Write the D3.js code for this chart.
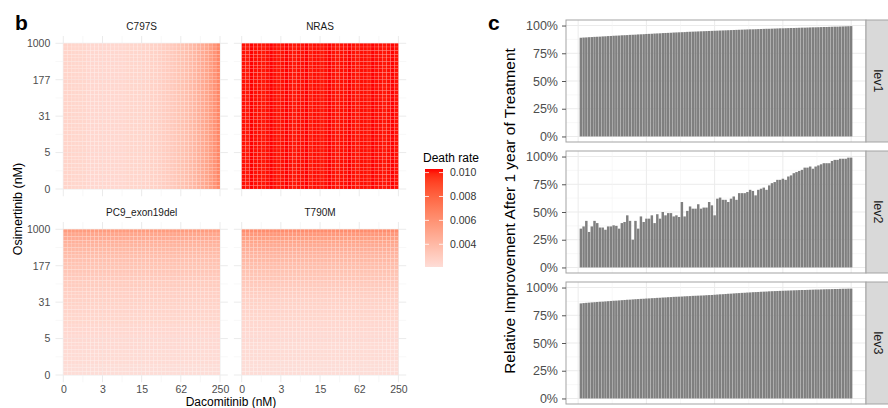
<!DOCTYPE html>
<html>
<head>
<meta charset="utf-8">
<script src="https://cdn.jsdelivr.net/npm/d3@7"></script>
<style>
body { margin: 0; background: #fff; }
svg { display: block; font-family: "Liberation Sans", Arial, sans-serif; }
</style>
</head>
<body>
<script>
// ---- panel b data: death rate per drug level (40 levels per axis) ----
var dacoTicks = ["0", "3", "15", "62", "250"]
var osiTicks = ["0", "5", "31", "177", "1000"]

// C797S changes along dacomitinib only
var c797sByDaco = [.0026,.0026,.0025,.0025,.0025,.0025,.0024,.0024,.0024,.0024,
  .0024,.0024,.0024,.0024,.0024,.0024,.0025,.0025,.0025,.0025,
  .0026,.0026,.0027,.0027,.0028,.0029,.0030,.0031,.0032,.0034,
  .0035,.0037,.0039,.0041,.0044,.0047,.0050,.0054,.0059,.0065]
// NRAS is flat at the top of the scale
var nrasByDaco = [.0102,.0101,.0103,.0102,.0102,.0101,.0102,.0103,.0102,.0101,
  .0102,.0103,.0102,.0101,.0102,.0102,.0103,.0101,.0102,.0102,
  .0101,.0102,.0103,.0102,.0101,.0102,.0102,.0103,.0102,.0101,
  .0102,.0102,.0101,.0103,.0102,.0102,.0101,.0102,.0103,.0102]
// PC9 and T790M change along osimertinib only (index 0 = bottom row)
var pc9ByOsi = [.0021,.0021,.0021,.0022,.0022,.0022,.0022,.0023,.0023,.0023,
  .0023,.0024,.0024,.0024,.0025,.0025,.0025,.0026,.0026,.0027,
  .0027,.0028,.0028,.0029,.0030,.0030,.0031,.0032,.0033,.0034,
  .0035,.0036,.0037,.0039,.0040,.0042,.0044,.0047,.0050,.0055]
var t790mByOsi = [.0021,.0021,.0021,.0021,.0022,.0022,.0022,.0022,.0022,.0023,
  .0023,.0023,.0024,.0024,.0024,.0025,.0025,.0026,.0026,.0027,
  .0027,.0028,.0029,.0030,.0031,.0032,.0033,.0034,.0035,.0037,
  .0038,.0040,.0041,.0043,.0045,.0047,.0050,.0053,.0057,.0062]
var legendTicks = [0.004, 0.006, 0.008, 0.010]

// ---- panel c data: relative improvement per simulated patient ----
var levels = ["lev1", "lev2", "lev3"]
var lev1 = [.890,.892,.893,.895,.896,.898,.899,.900,.902,.903,
  .905,.906,.908,.909,.910,.912,.913,.914,.916,.917,
  .918,.920,.921,.922,.924,.925,.926,.928,.929,.930,
  .932,.933,.934,.935,.937,.938,.939,.940,.941,.943,
  .944,.945,.946,.947,.948,.949,.950,.951,.952,.953,
  .954,.955,.956,.957,.958,.959,.960,.961,.962,.963,
  .964,.965,.966,.966,.967,.968,.969,.970,.971,.971,
  .972,.973,.974,.975,.975,.976,.977,.978,.978,.979,
  .980,.981,.981,.982,.983,.984,.984,.985,.986,.987,
  .987,.988,.989,.990,.990,.991,.992,.993,.994,.995]
var lev2 = [.35,.37,.42,.32,.37,.42,.40,.36,.36,.34,
  .37,.37,.38,.375,.35,.40,.41,.47,.42,.25,
  .42,.35,.46,.41,.44,.44,.47,.40,.48,.44,
  .50,.47,.49,.49,.46,.47,.455,.59,.46,.51,
  .55,.53,.53,.57,.53,.54,.54,.59,.56,.47,
  .62,.63,.61,.61,.59,.62,.64,.61,.67,.67,
  .67,.68,.70,.69,.65,.70,.71,.72,.70,.74,
  .76,.77,.79,.79,.80,.79,.82,.83,.85,.86,
  .87,.88,.90,.90,.91,.89,.91,.92,.93,.94,
  .94,.94,.96,.97,.97,.98,.98,.98,.99,.99]
var lev3 = [.857,.860,.862,.864,.866,.868,.870,.872,.873,.875,
  .877,.879,.881,.882,.884,.886,.888,.890,.891,.893,
  .895,.896,.898,.899,.901,.902,.904,.905,.907,.908,
  .910,.911,.913,.914,.916,.917,.918,.919,.921,.922,
  .923,.925,.926,.927,.928,.929,.931,.932,.933,.935,
  .937,.939,.940,.942,.944,.945,.947,.949,.950,.952,
  .953,.955,.956,.958,.959,.960,.962,.963,.964,.966,
  .967,.968,.969,.970,.971,.972,.973,.974,.975,.976,
  .977,.978,.978,.979,.980,.981,.982,.982,.983,.984,
  .985,.985,.986,.987,.987,.988,.989,.989,.990,.990]
var pctTicks = [0, 0.25, 0.5, 0.75, 1]

var svg = d3.select("body").append("svg")
  .attr("width", 888)
  .attr("height", 408)

var color = d3.scaleLinear()
  .domain([0.0021, 0.0103])
  .range(["#fdddd7", "#ff0000"])
  .interpolate(d3.interpolateLab)

// ================= panel b =================
svg.append("text").attr("x", 15).attr("y", 30)
  .attr("font-size", 21).attr("font-weight", "bold").text("b")

var heatPanels = [
  {name: "C797S", left: 63.3, top: 43.3, values: c797sByDaco, along: "daco", xlab: false, ylab: true},
  {name: "NRAS", left: 241.7, top: 43.3, values: nrasByDaco, along: "daco", xlab: false, ylab: false},
  {name: "PC9_exon19del", left: 63.3, top: 229.3, values: pc9ByOsi, along: "osi", xlab: true, ylab: true},
  {name: "T790M", left: 241.7, top: 229.3, values: t790mByOsi, along: "osi", xlab: true, ylab: false}
]
var nLev = 40

heatPanels.forEach(function(p) {
  var x = d3.scaleLinear().domain([0, nLev]).range([p.left, p.left + 156.7])
  var y = d3.scaleLinear().domain([0, nLev]).range([p.top + 145.7, p.top])
  var g = svg.append("g")

  // grid, a bit past the tiles like ggplot's expansion
  var gx0 = x(-2), gx1 = x(nLev + 2), gy0 = y(-2), gy1 = y(nLev + 2)
  d3.range(0, nLev + 1, 5).forEach(function(v) {
    var major = v % 10 == 0
    g.append("line").attr("x1", x(v)).attr("x2", x(v)).attr("y1", gy0).attr("y2", gy1)
      .attr("stroke", major ? "#ebebeb" : "#f3f3f3").attr("stroke-width", major ? 1 : 0.6)
    g.append("line").attr("y1", y(v)).attr("y2", y(v)).attr("x1", gx0).attr("x2", gx1)
      .attr("stroke", major ? "#ebebeb" : "#f3f3f3").attr("stroke-width", major ? 1 : 0.6)
  })

  var cells = []
  for (var i = 0; i < nLev; i++) {
    for (var j = 0; j < nLev; j++) {
      cells.push({i: i, j: j, v: p.along == "daco" ? p.values[i] : p.values[j]})
    }
  }
  g.selectAll("rect.tile").data(cells).enter().append("rect")
    .attr("class", "tile")
    .attr("x", function(d) { return x(d.i) })
    .attr("y", function(d) { return y(d.j + 1) })
    .attr("width", x(1) - x(0))
    .attr("height", y(0) - y(1))
    .attr("fill", function(d) { return color(d.v) })
    .attr("stroke", "#fff").attr("stroke-width", 0.3).attr("stroke-opacity", 0.35)

  // strip title
  g.append("text").attr("x", x(nLev / 2)).attr("y", p.top - 13)
    .attr("text-anchor", "middle").attr("font-size", 10).attr("fill", "#1a1a1a")
    .text(p.name)

  if (p.xlab) {
    var ax = g.append("g").attr("transform", "translate(0," + y(0) + ")")
      .call(d3.axisBottom(x).tickValues([0, 10, 20, 30, 40])
        .tickFormat(function(d, k) { return dacoTicks[k] }).tickSize(0).tickPadding(10.5))
    ax.select(".domain").remove()
    ax.selectAll("text").attr("font-size", 10.5).attr("fill", "#4d4d4d").attr("font-family", null)
  }
  if (p.ylab) {
    var ay = g.append("g").attr("transform", "translate(" + x(0) + ",0)")
      .call(d3.axisLeft(y).tickValues([0, 10, 20, 30, 40])
        .tickFormat(function(d, k) { return osiTicks[k] }).tickSize(0).tickPadding(13))
    ay.select(".domain").remove()
    ay.selectAll("text").attr("font-size", 10.5).attr("fill", "#4d4d4d").attr("font-family", null)
  }
})

svg.append("text").attr("transform", "translate(22,209) rotate(-90)")
  .attr("text-anchor", "middle").attr("font-size", 12.5).text("Osimertinib (nM)")
svg.append("text").attr("x", 231).attr("y", 405.5)
  .attr("text-anchor", "middle").attr("font-size", 12).text("Dacomitinib (nM)")

// legend
var lg = svg.append("g")
var ly = d3.scaleLinear().domain(color.domain()).range([267, 169])
var grad = svg.append("defs").append("linearGradient").attr("id", "dr")
  .attr("x1", 0).attr("y1", 1).attr("x2", 0).attr("y2", 0)
d3.range(0, 1.0001, 0.05).forEach(function(t) {
  var v = color.domain()[0] + t * (color.domain()[1] - color.domain()[0])
  grad.append("stop").attr("offset", t).attr("stop-color", color(v))
})
lg.append("text").attr("x", 423).attr("y", 162).attr("font-size", 12).text("Death rate")
lg.append("rect").attr("x", 425).attr("y", ly(0.0103)).attr("width", 18)
  .attr("height", ly(0.0021) - ly(0.0103)).attr("fill", "url(#dr)")
legendTicks.forEach(function(v) {
  lg.append("line").attr("x1", 425).attr("x2", 429).attr("y1", ly(v)).attr("y2", ly(v))
    .attr("stroke", "#fff").attr("stroke-width", 0.8)
  lg.append("line").attr("x1", 439).attr("x2", 443).attr("y1", ly(v)).attr("y2", ly(v))
    .attr("stroke", "#fff").attr("stroke-width", 0.8)
  lg.append("text").attr("x", 450).attr("y", ly(v)).attr("dy", "0.35em")
    .attr("font-size", 10.5).attr("fill", "#333").text(v.toFixed(3))
})

// ================= panel c =================
svg.append("text").attr("x", 488).attr("y", 30)
  .attr("font-size", 21).attr("font-weight", "bold").text("c")

var barData = [lev1, lev2, lev3]
var facetTops = [20, 151, 282]
var facetH = 122
var bx = d3.scaleLinear().domain([-4.445, 105.445]).range([566, 866])

levels.forEach(function(lev, k) {
  var top = facetTops[k], bottom = top + facetH
  var y = d3.scaleLinear().domain([-0.05, 1.05]).range([bottom, top])
  var g = svg.append("g")

  d3.range(0, 1.001, 0.125).forEach(function(v, n) {
    g.append("line").attr("x1", 566).attr("x2", 866).attr("y1", y(v)).attr("y2", y(v))
      .attr("stroke", n % 2 ? "#f4f4f4" : "#ebebeb").attr("stroke-width", n % 2 ? 0.6 : 1)
  })
  d3.range(0, 100.1, 12.5).forEach(function(v, n) {
    g.append("line").attr("y1", top).attr("y2", bottom).attr("x1", bx(v)).attr("x2", bx(v))
      .attr("stroke", n % 2 ? "#f4f4f4" : "#ebebeb").attr("stroke-width", n % 2 ? 0.6 : 1)
  })

  g.selectAll("rect.bar").data(barData[k]).enter().append("rect")
    .attr("class", "bar")
    .attr("x", function(d, i) { return bx(i + 1 - 0.45) })
    .attr("width", bx(0.9) - bx(0))
    .attr("y", function(d) { return y(d) })
    .attr("height", function(d) { return y(0) - y(d) })
    .attr("fill", "#7f7f7f")

  g.append("rect").attr("x", 566).attr("y", top).attr("width", 300).attr("height", facetH)
    .attr("fill", "none").attr("stroke", "#a3a3a3").attr("stroke-width", 1)

  var ay = g.append("g").attr("transform", "translate(566,0)")
    .call(d3.axisLeft(y).tickValues(pctTicks).tickFormat(d3.format(".0%")).tickSize(4).tickPadding(4))
  ay.select(".domain").remove()
  ay.selectAll("line").attr("stroke", "#555")
  ay.selectAll("text").attr("font-size", 12.5).attr("fill", "#4d4d4d").attr("font-family", null)

  // facet strip on the right
  g.append("rect").attr("x", 866).attr("y", top).attr("width", 26).attr("height", facetH)
    .attr("fill", "#d9d9d9").attr("stroke", "#a3a3a3").attr("stroke-width", 1)
  g.append("text").attr("transform", "translate(878," + (top + facetH / 2) + ") rotate(90)")
    .attr("text-anchor", "middle").attr("dy", "0.35em").attr("font-size", 12.5)
    .attr("fill", "#1a1a1a").text(lev)
})

svg.append("text").attr("transform", "translate(510,211) rotate(-90)")
  .attr("text-anchor", "middle").attr("dy", "0.35em").attr("font-size", 15.5)
  .text("Relative Improvement After 1 year of Treatment")
</script>
</body>
</html>
